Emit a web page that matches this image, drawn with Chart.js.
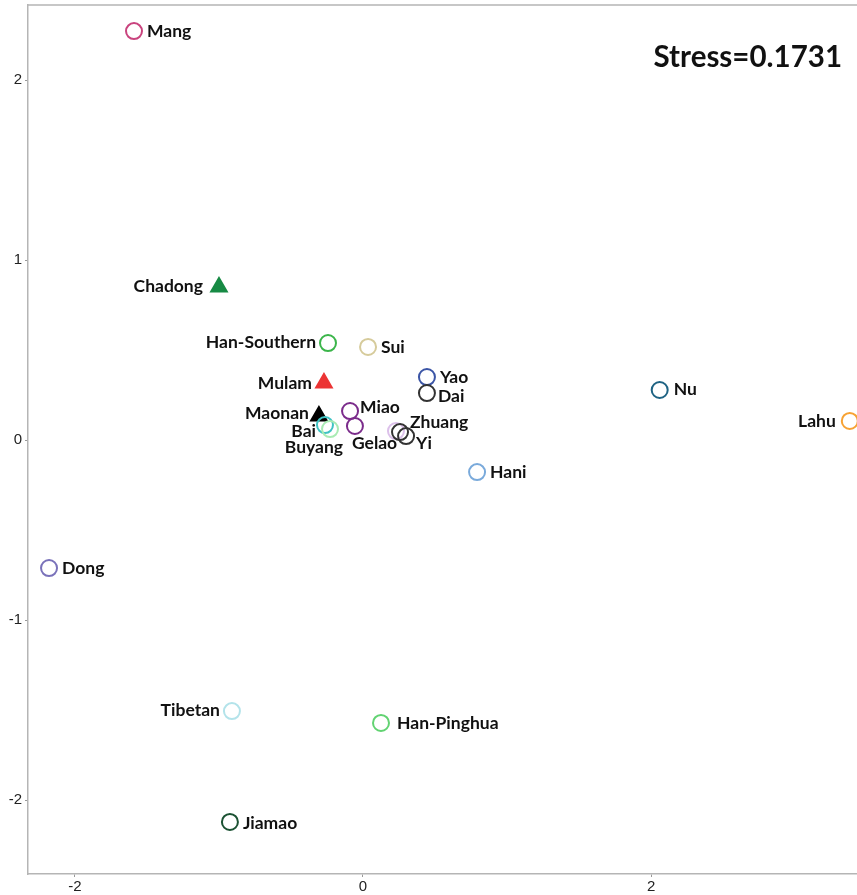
<!DOCTYPE html>
<html lang="en">
<head>
<meta charset="UTF-8">
<title>NMDS plot</title>
<script src="https://cdn.jsdelivr.net/npm/chart.js@4.4.0/dist/chart.umd.min.js"></script>
<style>
  body { margin: 0; background: #fff; }
  #wrap { width: 857px; height: 895px; }
</style>
</head>
<body>
<div id="wrap"><canvas id="nmds" width="857" height="895"></canvas></div>
<script>
// population names and NMDS coordinates
const populations = ['Mang', 'Chadong', 'Han-Southern', 'Sui', 'Yao', 'Dai', 'Mulam', 'Nu', 'Lahu',
  'Maonan', 'Bai', 'Buyang', 'Miao', 'Gelao', '', 'Zhuang', 'Yi', 'Hani', 'Dong', 'Tibetan',
  'Han-Pinghua', 'Jiamao'];
const dim1 = [-1.59, -1.00, -0.243, 0.035, 0.444, 0.444, -0.271, 2.06, 3.38,
  -0.306, -0.264, -0.229, -0.09, -0.056, 0.229, 0.257, 0.299, 0.792, -2.18, -0.91,
  0.125, -0.924];
const dim2 = [2.272, 0.85, 0.539, 0.517, 0.35, 0.261, 0.317, 0.278, 0.106,
  0.133, 0.083, 0.061, 0.161, 0.078, 0.05, 0.044, 0.022, -0.178, -0.711, -1.506,
  -1.572, -2.122];
const stress = 0.1731;
const xTicks = [-2, 0, 2];
const yTicks = [-2, -1, 0, 1, 2];

// marker styling
const colours = ['#c9447e', '#178a44', '#3bb54a', '#d6cb9b', '#3b55a6', '#333333', '#ec3434', '#1f6383', '#f7a233',
  '#000000', '#3fc3c3', '#a9ebb3', '#7b2c8b', '#7b2c8b', '#dcc0ea', '#333333', '#333333', '#7aaadb', '#7a72ba', '#b3e3ea',
  '#62d372', '#1b5233'];
const triangles = ['Chadong', 'Mulam', 'Maonan'];

// label offsets from the marker centre: [dx, dy, align]
const labelPlace = {
  'Mang': [13, 0, 'left'], 'Chadong': [-16, -1, 'right'], 'Han-Southern': [-12, -1, 'right'],
  'Sui': [13, 0, 'left'], 'Yao': [13, 0, 'left'], 'Dai': [11, 3, 'left'], 'Mulam': [-12, 0, 'right'],
  'Nu': [14, -1, 'left'], 'Lahu': [-14, 0, 'right'], 'Maonan': [-10, -3, 'right'], 'Bai': [-9, 6, 'right'],
  'Buyang': [13, 18, 'right'], 'Miao': [10, -4, 'left'], 'Gelao': [-3, 17, 'left'],
  'Zhuang': [10, -10, 'left'], 'Yi': [10, 7, 'left'], 'Hani': [13, 0, 'left'], 'Dong': [13, 0, 'left'],
  'Tibetan': [-12, -1, 'right'], 'Han-Pinghua': [16, 0, 'left'], 'Jiamao': [13, 1, 'left']
};

const labelFont = 'bold 17.5px "Lato", "DejaVu Sans", sans-serif';

const pointLabels = {
  id: 'pointLabels',
  afterDatasetsDraw(chart) {
    const ctx = chart.ctx;
    const meta = chart.getDatasetMeta(0);
    ctx.save();
    ctx.font = labelFont;
    ctx.fillStyle = '#111';
    ctx.textBaseline = 'middle';
    meta.data.forEach((pt, i) => {
      const name = populations[i];
      if (!name) return;
      const p = labelPlace[name];
      ctx.textAlign = p[2];
      ctx.fillText(name, pt.x + p[0], pt.y + p[1]);
    });
    // stress value in the corner
    ctx.font = 'bold 29.5px "Lato", "DejaVu Sans", sans-serif';
    ctx.textAlign = 'right';
    ctx.fillText('Stress=' + stress.toFixed(4), 842, 57);
    // frame top edge
    const a = chart.chartArea;
    ctx.strokeStyle = '#b5b5b5';
    ctx.lineWidth = 1.5;
    ctx.beginPath();
    ctx.moveTo(a.left, a.top);
    ctx.lineTo(a.right, a.top);
    ctx.stroke();
    ctx.restore();
  }
};

function noEdgePadding(s) {
  s.paddingTop = 0;
  s.paddingBottom = 0;
  s.paddingLeft = 0;
  s.paddingRight = 0;
}

const ctx = document.getElementById('nmds').getContext('2d');
new Chart(ctx, {
  type: 'scatter',
  data: {
    datasets: [{
      data: dim1.map((x, i) => ({ x: x, y: dim2[i] })),
      pointStyle: populations.map(n => triangles.includes(n) ? 'triangle' : 'circle'),
      pointRadius: populations.map(n => triangles.includes(n) ? 9 : 8),
      pointBorderWidth: 2,
      pointBorderColor: colours,
      pointBackgroundColor: populations.map((n, i) => triangles.includes(n) ? colours[i] : 'rgba(0,0,0,0)'),
      pointHoverRadius: 8
    }]
  },
  options: {
    responsive: false,
    animation: false,
    layout: { autoPadding: false, padding: { top: 5, right: 0, left: 0, bottom: 0 } },
    plugins: { legend: { display: false }, tooltip: { enabled: false } },
    scales: {
      x: {
        min: -2.326, max: 3.43,
        afterBuildTicks: s => { s.ticks = xTicks.map(v => ({ value: v })); },
        afterFit: s => { s.height = 21; noEdgePadding(s); },
        grid: { drawOnChartArea: false, tickLength: 3, tickColor: '#999' },
        border: { color: '#b5b5b5', width: 1.5 },
        ticks: { color: '#222', font: { family: '"Liberation Sans", Arial, sans-serif', size: 15 }, padding: 1 }
      },
      y: {
        min: -2.411, max: 2.417,
        afterBuildTicks: s => { s.ticks = yTicks.map(v => ({ value: v })); },
        afterFit: s => { s.width = 28; noEdgePadding(s); },
        grid: { drawOnChartArea: false, tickLength: 3, tickColor: '#999' },
        border: { color: '#b5b5b5', width: 1.5 },
        ticks: { color: '#222', font: { family: '"Liberation Sans", Arial, sans-serif', size: 15 }, padding: 3 }
      }
    }
  },
  plugins: [pointLabels]
});
</script>
</body>
</html>
